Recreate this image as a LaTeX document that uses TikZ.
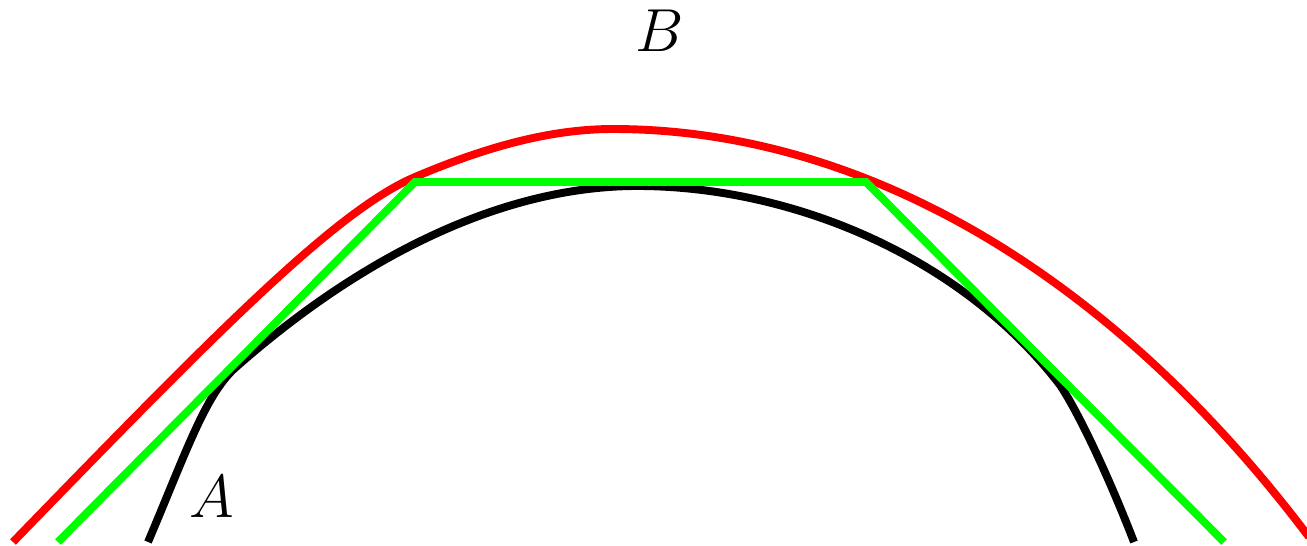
\documentclass[tikz,border=0pt]{standalone}
\begin{document}
\begin{tikzpicture}[x=0.01cm,y=-0.01cm,
  curve/.style={line width=2.25pt,line join=round},
  lbl/.style={font=\fontsize{17}{20}\selectfont}]
\useasboundingbox (0,0) rectangle (1307,546);
\clip (0,0) rectangle (1307,546);
% black curve
\coordinate (k0) at (148,542);
\coordinate (k1) at (235,368);
\coordinate (k2) at (637,186);
\coordinate (k3) at (1060,385);
\coordinate (k4) at (1134,542);
\draw[curve,black] (k0) .. controls (185,455) and (205,395) .. (k1)
  .. controls (380,240) and (520,186) .. (k2)
  .. controls (790,186) and (960,255) .. (k3)
  .. controls (1080,415) and (1110,480) .. (k4);
% red curve
\coordinate (r0) at (13,542);
\coordinate (rm) at (415,177);
\coordinate (r1) at (613,129);
\coordinate (r2) at (1309,537);
\draw[curve,red] (r0) .. controls (213,336) and (335,211) .. (rm)
  .. controls (481,149) and (547,129) .. (r1)
  .. controls (850,129) and (1100,260) .. (r2);
% green polyline
\coordinate (g0) at (58,542);
\coordinate (g1) at (415,182);
\coordinate (g2) at (866,182);
\coordinate (g3) at (1224,542);
\draw[curve,green,line join=miter] (g0) -- (g1) -- (g2) -- (g3);
\node[lbl] (A) at (212,497) {$A$};
\node[lbl] (B) at (660,31) {$B$};
\end{tikzpicture}
\end{document}
